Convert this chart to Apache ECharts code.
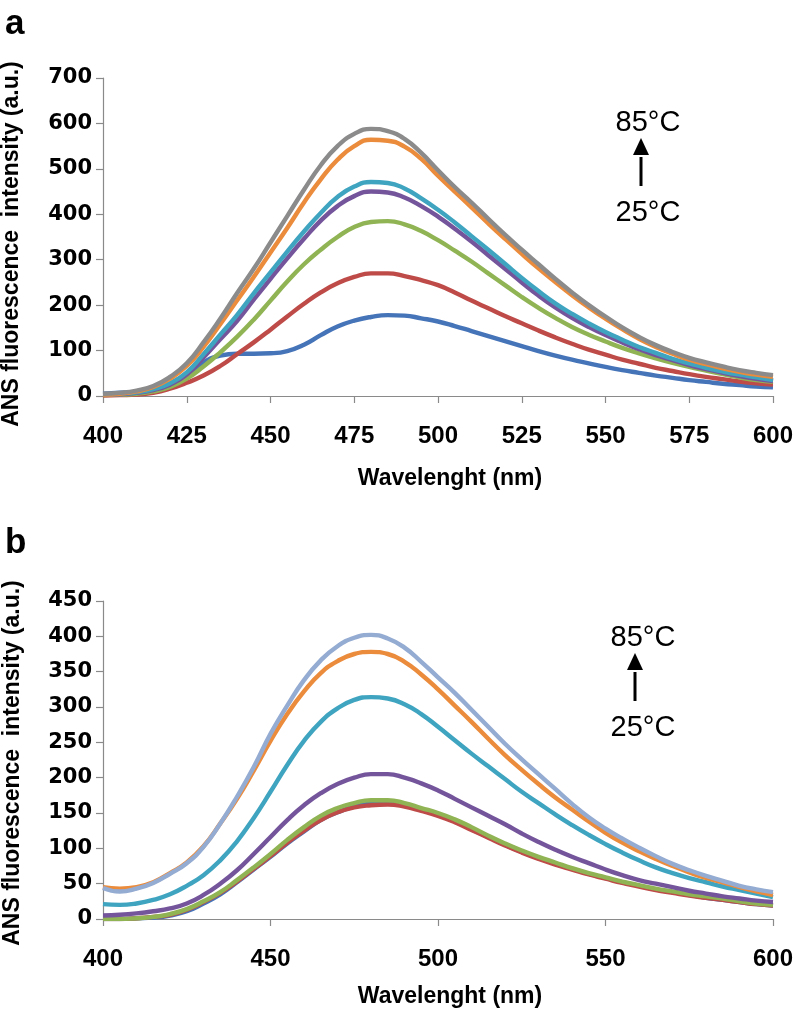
<!DOCTYPE html>
<html>
<head>
<meta charset="utf-8">
<script src="https://cdn.jsdelivr.net/npm/echarts@6/dist/echarts.min.js"></script>
<style>
html,body{margin:0;padding:0;background:#fff;}
#chart{width:799px;height:1011px;}
</style>
</head>
<body>
<div id="chart"></div>
<script>
// Wavelengths (nm), 5 nm steps
const wavelengths = [400,405,410,415,420,425,430,435,440,445,450,455,460,465,470,475,480,485,490,495,500,505,510,515,520,525,530,535,540,545,550,555,560,565,570,575,580,585,590,595,600];

// Panel a (25°C -> 85°C)
const aBlue   = [5,7,9,14,25,45,74,89,93,93,94,99,113,134,153,166,174,178,177,171,164,154,143,132,121,110,99,89,80,72,64,57,51,45,40,35,31,27,24,21,19];
const aRed    = [1,2,3,7,16,29,45,66,92,118,146,175,203,228,248,262,270,270,264,255,244,228,210,193,176,160,144,129,115,102,91,80,71,62,55,48,42,37,32,28,25];
const aGreen  = [2,3,5,10,20,38,65,96,130,168,210,252,290,322,350,372,383,385,378,363,343,320,296,270,244,218,194,172,152,135,120,106,94,83,73,64,56,48,41,35,31];
const aPurple = [3,4,7,13,25,47,85,125,165,212,258,303,346,386,418,440,450,448,437,418,395,368,340,310,280,250,221,195,172,152,134,118,103,90,79,68,59,51,44,38,33];
const aTeal   = [3,5,8,15,28,52,92,135,178,226,272,318,362,403,438,461,471,469,457,435,410,382,352,322,291,260,231,204,181,160,141,124,108,95,82,72,62,54,47,41,35];
const aOrange = [3,5,10,20,38,66,108,158,210,262,316,370,426,477,520,550,564,562,549,522,485,450,415,380,346,313,281,251,222,195,170,147,126,108,93,80,70,61,53,47,42];
const aGray   = [5,7,12,22,42,72,118,170,226,280,338,396,454,508,550,577,588,583,566,535,497,460,426,390,355,322,290,258,228,200,175,151,130,112,97,84,74,65,57,51,46];

// Panel b
const bBlue   = [0,0,1,2,5,11,22,35,52,70,88,107,124,140,151,159,163,164,161,155,147,138,127,116,105,95,86,78,71,64,58,52,47,42,38,34,30,27,24,21,19];
const bRed    = [0,0,1,3,6,13,24,37,53,71,89,108,125,140,151,158,161,162,159,153,146,137,126,115,104,94,85,77,70,63,57,51,46,41,37,33,30,27,24,21,19];
const bGreen  = [0,0,1,3,7,14,25,38,55,73,92,112,130,146,157,164,168,168,164,157,150,141,130,118,107,97,88,80,72,65,59,53,48,43,39,35,32,29,25,22,20];
const bPurple = [5,6,8,11,15,22,34,50,69,92,116,140,161,178,191,200,205,205,200,192,182,170,158,146,134,121,109,98,88,79,70,62,55,50,45,40,36,32,29,26,24];
const bTeal   = [21,20,22,27,35,47,62,83,110,143,180,218,252,279,298,310,314,312,304,290,272,253,234,216,198,180,164,148,133,119,106,94,83,73,65,58,52,46,41,36,31];
const bOrange = [45,43,45,52,65,80,103,135,170,210,252,290,322,348,365,375,378,375,364,346,325,302,279,255,232,211,191,172,155,138,122,108,96,85,75,66,58,52,45,39,34];
const bLight  = [44,39,43,51,64,79,102,135,173,215,262,302,338,366,386,398,402,397,384,364,342,320,296,272,248,226,205,184,163,144,128,114,101,89,78,69,61,54,47,42,38];

// Axis ticks
const aXTicks = {min:400, max:600, interval:25};
const aYTicks = {min:0, max:700, interval:100};
const bXTicks = {min:400, max:600, interval:50};
const bYTicks = {min:0, max:450, interval:50};

const xName = 'Wavelenght (nm)';
const yName = 'ANS fluorescence  intensity (a.u.)';
const hiLabel = '85°C';
const loLabel = '25°C';

const colors = {
  blue:'#4674B9', red:'#BE4B48', green:'#90B454', purple:'#74559C',
  teal:'#3FA4C0', orange:'#EB8B3C', gray:'#8B8B8B', light:'#94ABD2'
};

function pts(vals){ return wavelengths.map((w,i)=>[w, vals[i]]); }
function mkSeries(vals, color, idx){
  return {type:'line', xAxisIndex:idx, yAxisIndex:idx, data:pts(vals), showSymbol:false,
    smooth:0.5, lineStyle:{color:color, width:4.4}, itemStyle:{color:color}, z:2, silent:true};
}

const FONT = '"Liberation Sans", Arial, Helvetica, sans-serif';
const YFONT = '"DejaVu Sans", "Liberation Sans", Arial, sans-serif';
const axisLineStyle = {lineStyle:{color:'#8a8a8a', width:1.2}};
function xAx(t, gi){
  return {type:'value', gridIndex:gi, min:t.min, max:t.max, interval:t.interval,
    axisLine:{show:true, ...axisLineStyle}, axisTick:{show:true, length:7, lineStyle:{color:'#8a8a8a', width:1.2}},
    splitLine:{show:false},
    axisLabel:{color:'#000', fontSize:24, fontWeight:'bold', fontFamily:FONT, margin:28}};
}
function yAx(t, gi){
  return {type:'value', gridIndex:gi, min:t.min, max:t.max, interval:t.interval,
    axisLine:{show:true, ...axisLineStyle}, axisTick:{show:true, length:7, lineStyle:{color:'#8a8a8a', width:1.2}},
    splitLine:{show:false},
    axisLabel:{color:'#000', fontSize:21, fontWeight:'bold', fontFamily:YFONT, margin:11}};
}

function txt(x,y,text,size,weight,rot,align){
  return {type:'text', x:x, y:y, rotation:rot||0, silent:true,
    style:{text:text, fill:'#000', font: (weight||'normal')+' '+size+'px '+FONT, align:align||'center', verticalAlign:'middle'}};
}
function arrow(x, yTip, yBase, yEnd){
  return [
    {type:'line', shape:{x1:x, y1:yEnd, x2:x, y2:yBase+2}, style:{stroke:'#000', lineWidth:3}, silent:true},
    {type:'polygon', shape:{points:[[x,yTip],[x-8,yBase],[x+8,yBase]]}, style:{fill:'#000'}, silent:true}
  ];
}

const chart = echarts.init(document.getElementById('chart'), null, {renderer:'canvas'});
chart.setOption({
  backgroundColor:'#fff',
  animation:false,
  grid:[
    {left:103, top:78, width:670, height:318},
    {left:103, top:601, width:670, height:318}
  ],
  xAxis:[xAx(aXTicks,0), xAx(bXTicks,1)],
  yAxis:[yAx(aYTicks,0), yAx(bYTicks,1)],
  series:[
    mkSeries(aBlue, colors.blue, 0),
    mkSeries(aRed, colors.red, 0),
    mkSeries(aGreen, colors.green, 0),
    mkSeries(aPurple, colors.purple, 0),
    mkSeries(aTeal, colors.teal, 0),
    mkSeries(aOrange, colors.orange, 0),
    mkSeries(aGray, colors.gray, 0),
    mkSeries(bBlue, colors.blue, 1),
    mkSeries(bRed, colors.red, 1),
    mkSeries(bGreen, colors.green, 1),
    mkSeries(bPurple, colors.purple, 1),
    mkSeries(bTeal, colors.teal, 1),
    mkSeries(bOrange, colors.orange, 1),
    mkSeries(bLight, colors.light, 1)
  ],
  graphic:[
    txt(5, 24, 'a', 35, 'bold', 0, 'left'),
    txt(5, 543, 'b', 35, 'bold', 0, 'left'),
    txt(12, 244, yName, 23, 'bold', Math.PI/2),
    txt(13, 763, yName, 23, 'bold', Math.PI/2),
    txt(450, 479, xName, 23, 'bold'),
    txt(450, 997, xName, 23, 'bold'),
    txt(648, 123, hiLabel, 29, 'normal'),
    txt(648, 213, loLabel, 29, 'normal'),
    ...arrow(641, 138, 155, 186),
    txt(643, 638, hiLabel, 29, 'normal'),
    txt(643, 728, loLabel, 29, 'normal'),
    ...arrow(635, 653, 670, 701)
  ]
});
</script>
</body>
</html>
